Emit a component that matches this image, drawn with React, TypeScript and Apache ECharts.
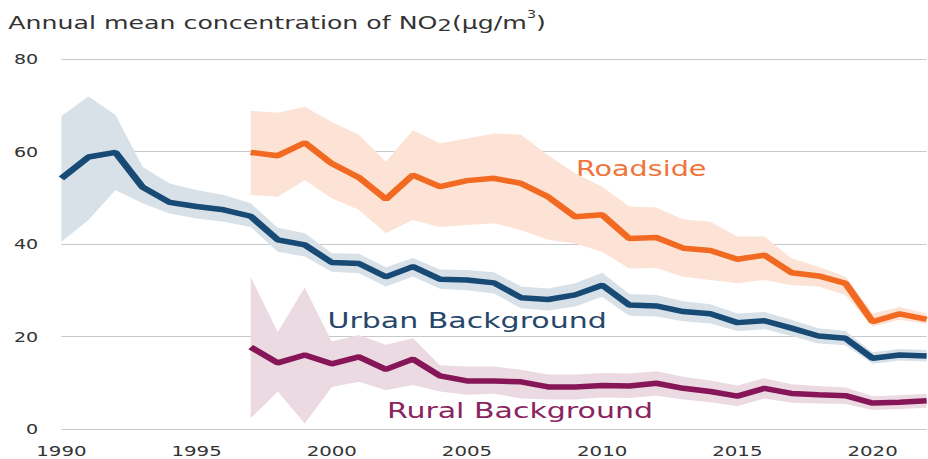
import React, { useEffect, useRef } from "react";
import * as echarts from "echarts";

// Annual mean NO2 concentration (µg/m³) by monitoring site type, with range bands
const years = [
  1990, 1991, 1992, 1993, 1994, 1995, 1996, 1997, 1998, 1999, 2000, 2001, 2002,
  2003, 2004, 2005, 2006, 2007, 2008, 2009, 2010, 2011, 2012, 2013, 2014, 2015,
  2016, 2017, 2018, 2019, 2020, 2021, 2022,
];
const siteYears = [
  1997, 1998, 1999, 2000, 2001, 2002, 2003, 2004, 2005, 2006, 2007, 2008, 2009,
  2010, 2011, 2012, 2013, 2014, 2015, 2016, 2017, 2018, 2019, 2020, 2021, 2022,
];

const urbanMean = [
  54.2, 58.8, 59.8, 52.3, 49.0, 48.1, 47.4, 46.0, 40.9, 39.8, 36.0, 35.8, 32.9,
  35.1, 32.4, 32.2, 31.6, 28.4, 28.0, 29.0, 31.1, 26.8, 26.6, 25.4, 24.9, 23.0,
  23.4, 21.8, 20.1, 19.6, 15.3, 16.0, 15.8,
];
const urbanHigh = [
  67.7, 71.9, 67.9, 56.7, 53.1, 51.7, 50.6, 48.8, 43.5, 42.3, 38.0, 37.9, 35.0,
  37.0, 34.5, 34.4, 33.9, 30.8, 30.4, 31.5, 33.8, 29.2, 29.0, 27.6, 27.0, 25.0,
  25.3, 23.6, 21.8, 21.2, 16.6, 17.3, 17.1,
];
const urbanLow = [
  40.5, 45.2, 51.7, 48.8, 46.6, 45.5, 44.8, 43.7, 38.3, 37.3, 34.0, 33.7, 30.8,
  33.0, 30.3, 30.0, 29.3, 26.1, 25.6, 26.5, 28.6, 24.5, 24.3, 23.3, 22.8, 21.2,
  21.6, 20.1, 18.5, 18.1, 14.1, 14.8, 14.6,
];

const roadsideMean = [
  59.8, 59.1, 61.9, 57.4, 54.4, 49.7, 54.9, 52.4, 53.7, 54.2, 53.1, 50.2, 45.9,
  46.3, 41.2, 41.4, 39.1, 38.6, 36.7, 37.6, 33.8, 33.1, 31.5, 23.2, 24.9, 23.7,
];
const roadsideHigh = [
  68.8, 68.4, 69.7, 66.4, 63.6, 57.8, 64.6, 61.8, 62.8, 63.9, 63.6, 59.2, 55.3,
  52.4, 48.1, 47.9, 45.3, 44.8, 41.6, 41.6, 36.9, 35.1, 32.9, 25.0, 26.4, 25.0,
];
const roadsideLow = [
  50.6, 50.2, 53.8, 49.9, 47.4, 42.3, 45.2, 43.7, 44.1, 44.5, 43.0, 40.9, 40.1,
  38.3, 34.7, 34.8, 32.9, 32.2, 31.5, 32.2, 31.1, 30.8, 29.0, 22.1, 23.6, 22.7,
];

const ruralMean = [
  17.7, 14.3, 16.0, 14.1, 15.6, 12.9, 15.1, 11.5, 10.4, 10.4, 10.2, 9.1, 9.1,
  9.4, 9.3, 9.9, 8.8, 8.1, 7.1, 8.8, 7.7, 7.4, 7.2, 5.6, 5.8, 6.1,
];
const ruralHigh = [
  32.9, 21.0, 30.6, 18.9, 20.3, 18.2, 19.6, 13.8, 13.5, 13.5, 12.8, 11.8, 11.8,
  12.1, 12.0, 12.5, 11.3, 10.5, 9.4, 11.0, 9.7, 9.3, 9.0, 7.1, 7.3, 7.6,
];
const ruralLow = [
  2.3, 8.1, 1.2, 9.1, 10.2, 8.4, 9.5, 8.1, 7.4, 7.6, 6.6, 6.4, 6.4, 6.8, 6.7,
  7.2, 6.4, 5.8, 4.9, 6.6, 5.7, 5.5, 5.4, 4.1, 4.3, 4.6,
];

const PAGE_W = 928;
const PAGE_H = 459;
const CHART_W = 680; // drawn narrower, then widened to the page with scaleX
const STRETCH = PAGE_W / CHART_W;

const FONT = "DejaVu Sans";
const C = {
  road: "#f26a21",
  roadBand: "#fde3d6",
  roadText: "#f0743a",
  urban: "#174a75",
  urbanBand: "#d8e0e8",
  urbanText: "#26476a",
  rural: "#861657",
  ruralBand: "#ecdae3",
  ruralText: "#8a2460",
  text: "#333333",
  grid: "#c8c8c8",
};

// Shaded min–max envelope drawn as one polygon through the axis scales
function rangeBand(xs: number[], low: number[], high: number[], color: string) {
  return {
    type: "custom",
    silent: true,
    data: xs.map((x, i) => [x, low[i], high[i]]),
    encode: { x: 0, y: [1, 2] },
    renderItem: (params: any, api: any) => {
      if (params.dataIndex !== 0) return null;
      const upper = xs.map((x, i) => api.coord([x, high[i]]));
      const lower = xs.map((x, i) => api.coord([x, low[i]])).reverse();
      return {
        type: "polygon",
        shape: { points: upper.concat(lower) },
        style: { fill: color },
      };
    },
  };
}

function meanLine(name: string, xs: number[], ys: number[], color: string) {
  return {
    type: "line",
    name,
    data: xs.map((x, i) => [x, ys[i]]),
    symbol: "none",
    lineStyle: { color, width: 5.5 },
  };
}

function seriesLabel(text: string, x: number, y: number, size: number, color: string) {
  return {
    type: "text",
    x,
    y,
    style: {
      text,
      fill: color,
      fontSize: size,
      fontFamily: FONT,
      textAlign: "left",
      textVerticalAlign: "middle",
      align: "left",
      verticalAlign: "middle",
    },
  };
}

export default function App() {
  const ref = useRef<HTMLDivElement>(null);

  useEffect(() => {
    if (!ref.current) return;
    const chart = echarts.init(ref.current, undefined, { renderer: "svg" });
    const titleToken = {
      color: C.text,
      fontFamily: FONT,
      fontWeight: "normal",
      lineHeight: 22,
      verticalAlign: "middle",
    };
    chart.setOption({
      animation: false,
      textStyle: { fontFamily: FONT },
      title: {
        left: 6,
        top: 11,
        padding: 0,
        text: "{a|Annual mean concentration of NO}{sub|2}{a|(μg/m}{sup|3}{a|)}",
        textStyle: {
          fontWeight: "normal",
          rich: {
            a: { ...titleToken, fontSize: 18.5 },
            // padding on one side shifts the glyph down (subscript) or up (superscript)
            sub: { ...titleToken, fontSize: 16.5, padding: [8, 0, 0, 0] },
            sup: { ...titleToken, fontSize: 10.5, padding: [0, 0, 15, 0] },
          },
        },
      },
      grid: { left: 45, right: 1, top: 59, bottom: 30, containLabel: false },
      xAxis: {
        type: "value",
        min: 1990,
        max: 2022,
        interval: 5,
        axisLine: { show: false },
        axisTick: { show: false },
        splitLine: { show: false },
        axisLabel: {
          fontSize: 14.5,
          color: C.text,
          margin: 14,
          showMaxLabel: false,
          formatter: (v: number) => (v % 5 === 0 ? String(v) : ""),
        },
      },
      yAxis: {
        type: "value",
        min: 0,
        max: 80,
        interval: 20,
        axisLine: { show: false },
        axisTick: { show: false },
        splitLine: { lineStyle: { color: C.grid, width: 1 } },
        axisLabel: { fontSize: 14, color: C.text, margin: 17 },
      },
      series: [
        rangeBand(years, urbanLow, urbanHigh, C.urbanBand),
        rangeBand(siteYears, roadsideLow, roadsideHigh, C.roadBand),
        rangeBand(siteYears, ruralLow, ruralHigh, C.ruralBand),
        meanLine("Urban Background", years, urbanMean, C.urban),
        meanLine("Roadside", siteYears, roadsideMean, C.road),
        meanLine("Rural Background", siteYears, ruralMean, C.rural),
      ],
      graphic: [
        seriesLabel("Roadside", 422, 169, 21, C.roadText),
        seriesLabel("Urban Background", 240, 320.5, 22, C.urbanText),
        seriesLabel("Rural Background", 283.5, 410, 22, C.ruralText),
      ],
    });
    return () => chart.dispose();
  }, []);

  return (
    <div
      style={{
        position: "fixed",
        left: 0,
        top: 0,
        width: PAGE_W,
        height: PAGE_H,
        overflow: "hidden",
        background: "#ffffff",
      }}
    >
      <div
        ref={ref}
        style={{
          width: CHART_W,
          height: PAGE_H,
          transform: `scaleX(${STRETCH})`,
          transformOrigin: "0 0",
        }}
      />
    </div>
  );
}
